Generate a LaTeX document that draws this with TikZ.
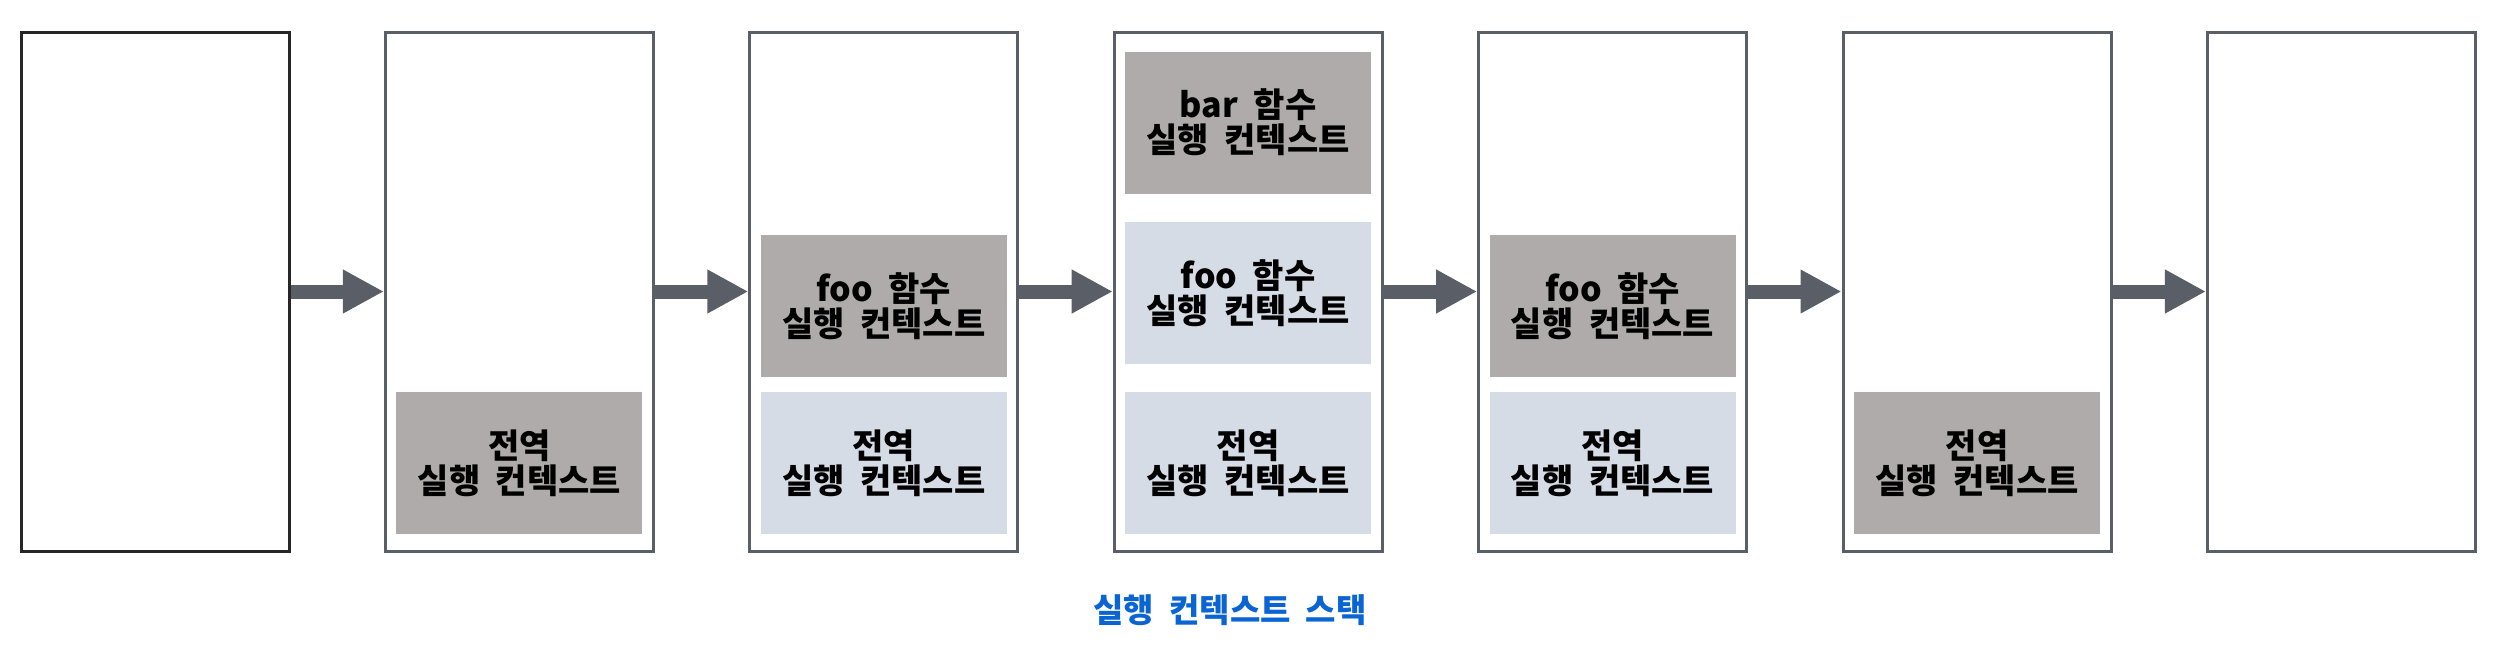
\documentclass[tikz,border=0pt]{standalone}
\usepackage{fontspec}
\setmainfont{Noto Sans CJK KR}[WordSpace=2]
\usetikzlibrary{arrows.meta,positioning}
\definecolor{BoxEdge}{HTML}{5A5E66}
\definecolor{FrameGray}{HTML}{AFABAA}
\definecolor{FrameBlue}{HTML}{D6DCE5}
\definecolor{CapBlue}{HTML}{0A64D2}

\begin{document}
\begin{tikzpicture}[x=1pt,y=-1pt,
  stackbox/.style={draw=BoxEdge,line width=3pt,minimum width=268pt,minimum height=519pt,inner sep=0pt},
  frame/.style={minimum width=246pt,minimum height=142pt,inner sep=0pt,align=center,font=\fontsize{34}{35}\selectfont\bfseries},
  active/.style={frame,fill=FrameGray},
  waiting/.style={frame,fill=FrameBlue},
  push/.style={BoxEdge,line width=14pt,-{Triangle[length=41pt,width=41pt]}}]
  \useasboundingbox (0,0) rectangle (2506,646);
  % the seven snapshots of the stack
  \foreach \i in {1,...,7}
    \node[stackbox] (s\i) at ({155+364.4*(\i-1)},291.5) {};
  \draw[black!85,line width=3pt] (s1.south west) ++(1.5pt,1.5pt) rectangle ([xshift=-1.5pt,yshift=-1.5pt]s1.north east);
  % frames
  \node[active,above=18pt of s2.south] (g2) {전역\\실행 컨텍스트};
  \node[waiting,above=18pt of s3.south] (g3) {전역\\실행 컨텍스트};
  \node[active,above=15pt of g3] (f3) {foo 함수\\실행 컨텍스트};
  \node[waiting,above=18pt of s4.south] (g4) {전역\\실행 컨텍스트};
  \node[waiting,above=28pt of g4] (f4) {foo 함수\\실행 컨텍스트};
  \node[active,above=28pt of f4] (b4) {bar 함수\\실행 컨텍스트};
  \node[waiting,above=18pt of s5.south] (g5) {전역\\실행 컨텍스트};
  \node[active,above=15pt of g5] (f5) {foo 함수\\실행 컨텍스트};
  \node[active,above=18pt of s6.south] (g6) {전역\\실행 컨텍스트};
  % transitions
  \foreach \i [evaluate=\i as \j using int(\i+1)] in {1,...,6}
    \draw[push] (s\i.east) -- (s\j.west);
  \node[text=CapBlue,font=\fontsize{33}{36}\selectfont\bfseries] (cap) at (1230,610) {실행 컨텍스트 스택};
\end{tikzpicture}
\end{document}
